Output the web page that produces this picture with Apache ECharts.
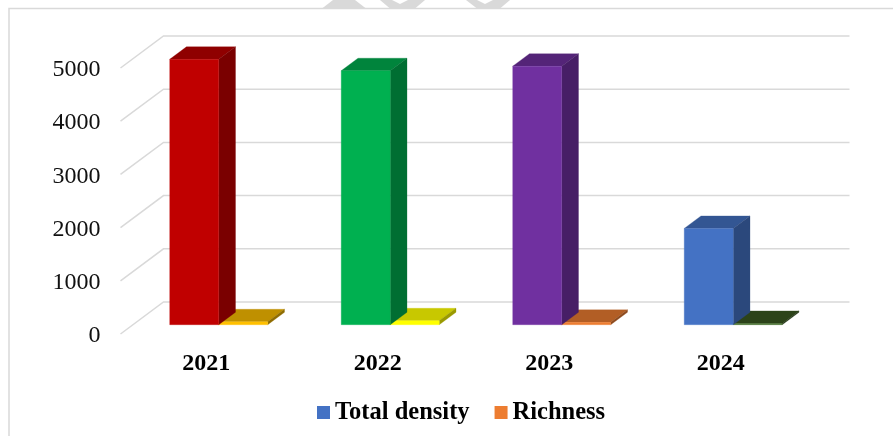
<!DOCTYPE html>
<html>
<head>
<meta charset="utf-8">
<style>html,body{margin:0;padding:0;background:#fff}#chart{width:893px;height:436px}</style>
<script src="https://cdn.jsdelivr.net/npm/echarts@6/dist/echarts.min.js"></script>
</head>
<body>
<div id="chart"></div>
<script>
// Survey values per year
const years = ['2021', '2022', '2023', '2024'];
const totalDensity = [4990, 4775, 4860, 1810];
const richness = [56, 75, 45, 25];
const yTicks = [0, 1000, 2000, 3000, 4000, 5000];

// Face colours per year: front, top, right side
const totalFront = ['#C00000', '#00B050', '#7030A0', '#4472C4'];
const totalTop = ['#8F0000', '#00843C', '#542478', '#335693'];
const totalSide = ['#7A0000', '#006E32', '#471E66', '#2B487C'];
const richFront = ['#FFC000', '#FFFF00', '#ED7D31', '#3F6B26'];
const richTop = ['#BF9000', '#C8C800', '#B25E25', '#2C4319'];
const richSide = ['#8F6C00', '#9A9A00', '#8E4A1D', '#233615'];

// Oblique projection used for the floor and the bars
const WALL_DX = 43, WALL_DY = 32;
const BAR_SHIFT = 0.29, BAR_DEPTH = 0.39;
const BAR_SHARE = 2 / 7;

function poly(points, fill) {
  return { type: 'polygon', shape: { points }, style: { fill, stroke: fill, lineWidth: 0.3 } };
}

// Draws one 3D bar from a [category index, value] pair
function barRenderer(side, front, top, flank) {
  return function (params, api) {
    const i = api.value(0);
    const head = api.coord([i, api.value(1)]);
    const foot = api.coord([i, 0]);
    const w = api.size([1, 0])[0] * BAR_SHARE;
    const sx = WALL_DX * BAR_SHIFT, sy = WALL_DY * BAR_SHIFT;
    const dx = WALL_DX * BAR_DEPTH, dy = WALL_DY * BAR_DEPTH;
    const l = head[0] + (side < 0 ? -w : 0) + sx;
    const r = l + w;
    const t = head[1] - sy, b = foot[1] - sy;
    return {
      type: 'group',
      children: [
        poly([[l, t], [r, t], [r + dx, t - dy], [l + dx, t - dy]], top[i]),
        poly([[r, t], [r + dx, t - dy], [r + dx, b - dy], [r, b]], flank[i]),
        poly([[l, t], [r, t], [r, b], [l, b]], front[i])
      ]
    };
  };
}

// Gridline for one tick: along the side wall, then across the back wall
function gridRenderer(params, api) {
  const cs = params.coordSys;
  const y = api.coord([0, api.value(0)])[1];
  return {
    type: 'polyline',
    shape: { points: [[cs.x, y], [cs.x + WALL_DX, y - WALL_DY], [cs.x + cs.width + WALL_DX, y - WALL_DY]] },
    style: { fill: 'none', stroke: '#D9D9D9', lineWidth: 1.5 }
  };
}

const serif = '"Liberation Serif", "Times New Roman", serif';
const chart = echarts.init(document.getElementById('chart'), null, { renderer: 'canvas' });

chart.setOption({
  animation: false,
  backgroundColor: '#fff',
  graphic: [
    // Stray grey shapes along the top margin
    { type: 'polygon', silent: true, z: 0, shape: { points: [[322, 8.5], [333, 0], [355, 0], [366, 8.5]] }, style: { fill: '#D9D9D9' } },
    { type: 'polygon', silent: true, z: 0, shape: { points: [[380, 0], [392, 0], [400, 4], [408, 0], [425, 0], [415, 8.5], [390, 8.5]] }, style: { fill: '#D9D9D9' } },
    { type: 'polygon', silent: true, z: 0, shape: { points: [[466, 0], [477, 0], [485, 4], [493, 0], [510, 0], [500, 8.5], [477, 8.5]] }, style: { fill: '#D9D9D9' } },
    // Chart frame, open past the right and bottom of the page
    { type: 'rect', silent: true, z: 1, shape: { x: 9, y: 8.5, width: 950, height: 500 }, style: { fill: '#fff', stroke: '#D9D9D9', lineWidth: 1.5 } }
  ],
  grid: { left: 120.5, top: 68, width: 686, height: 266 },
  xAxis: {
    type: 'category',
    z: 5,
    data: years,
    axisLine: { show: false },
    axisTick: { show: false },
    axisLabel: { color: '#000', fontFamily: serif, fontWeight: 'bold', fontSize: 24, margin: 18 }
  },
  yAxis: {
    type: 'value',
    z: 5,
    min: 0,
    max: 5000,
    interval: 1000,
    axisLine: { show: false },
    axisTick: { show: false },
    splitLine: { show: false },
    axisLabel: {
      color: '#111',
      fontFamily: serif,
      fontSize: 24,
      margin: 20,
      verticalAlign: 'top',
      lineHeight: 4,
      formatter: v => String(v)
    }
  },
  legend: {
    left: 312,
    top: 395,
    z: 5,
    data: ['Total density', 'Richness'],
    icon: 'rect',
    itemWidth: 13,
    itemHeight: 13,
    itemGap: 25,
    selectedMode: false,
    textStyle: { color: '#000', fontFamily: serif, fontWeight: 'bold', fontSize: 24.5, padding: [0, 0, 0, 0] }
  },
  series: [
    {
      type: 'custom',
      name: 'grid',
      silent: true,
      clip: false,
      z: 2,
      renderItem: gridRenderer,
      encode: { y: 0 },
      data: yTicks.map(v => [v])
    },
    {
      type: 'custom',
      name: 'Richness',
      silent: true,
      clip: false,
      z: 3,
      itemStyle: { color: '#ED7D31' },
      renderItem: barRenderer(1, richFront, richTop, richSide),
      encode: { x: 0, y: 1 },
      data: richness.map((v, i) => [i, v])
    },
    {
      type: 'custom',
      name: 'Total density',
      silent: true,
      clip: false,
      z: 4,
      itemStyle: { color: '#4472C4' },
      renderItem: barRenderer(-1, totalFront, totalTop, totalSide),
      encode: { x: 0, y: 1 },
      data: totalDensity.map((v, i) => [i, v])
    }
  ]
});
</script>
</body>
</html>
